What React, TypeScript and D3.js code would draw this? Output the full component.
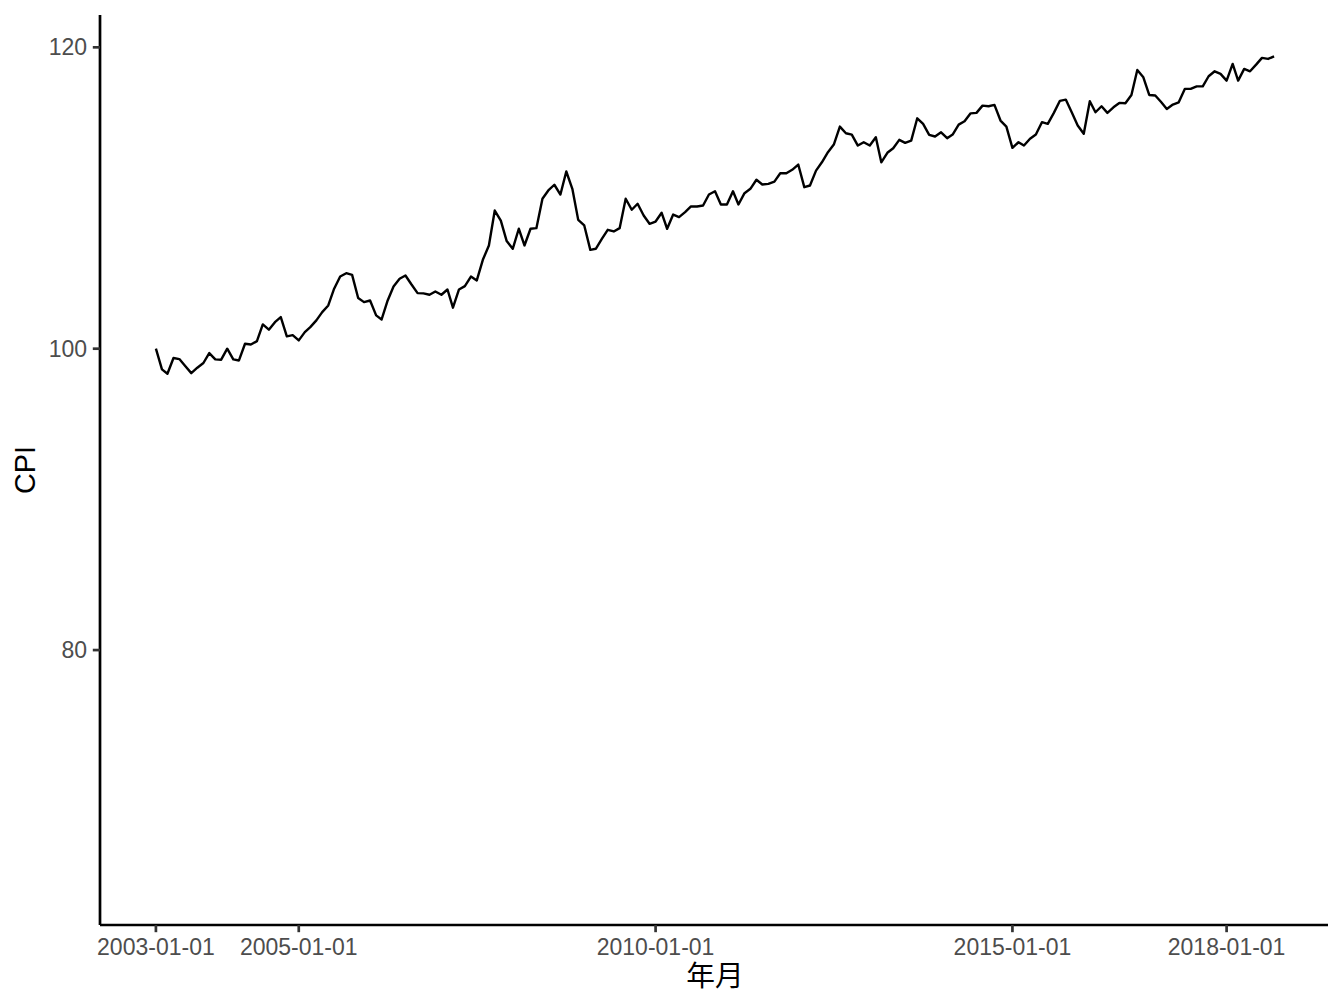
import React from "react";
import * as d3 from "d3";

const startMonth = "2003-01-01";
const cpi: number[] = [
  100.0, 98.63, 98.34, 99.38, 99.31, 98.83, 98.38, 98.74, 99.05, 99.71, 99.29, 99.27,
  100.0, 99.29, 99.22, 100.33, 100.28, 100.5, 101.61, 101.26, 101.76, 102.1, 100.82, 100.9,
  100.55, 101.1, 101.43, 101.88, 102.43, 102.87, 103.98, 104.79, 105.01, 104.9, 103.36, 103.09,
  103.2, 102.21, 101.94, 103.2, 104.13, 104.64, 104.86, 104.26, 103.69, 103.67, 103.58, 103.8,
  103.58, 103.93, 102.72, 103.93, 104.15, 104.79, 104.53, 105.9, 106.85, 109.17, 108.5, 107.14,
  106.63, 107.96, 106.85, 107.96, 108.0, 109.95, 110.5, 110.88, 110.23, 111.76, 110.61, 108.55,
  108.18, 106.56, 106.63, 107.29, 107.89, 107.78, 108.0, 109.95, 109.22, 109.62, 108.84, 108.29,
  108.44, 109.02, 107.96, 108.9, 108.73, 109.06, 109.44, 109.44, 109.5, 110.23, 110.45, 109.57,
  109.57, 110.45, 109.57, 110.32, 110.61, 111.21, 110.9, 110.94, 111.09, 111.64, 111.64, 111.87,
  112.22, 110.72, 110.83, 111.82, 112.37, 113.04, 113.55, 114.74, 114.3, 114.21, 113.48, 113.7,
  113.48, 114.03, 112.37, 113.0, 113.3, 113.86, 113.66, 113.81, 115.29, 114.92, 114.19, 114.08,
  114.36, 113.97, 114.21, 114.87, 115.09, 115.62, 115.65, 116.13, 116.09, 116.18, 115.14, 114.74,
  113.33, 113.7, 113.48, 113.93, 114.21, 115.03, 114.92, 115.65, 116.45, 116.53, 115.67, 114.81,
  114.26, 116.42, 115.69, 116.09, 115.65, 116.02, 116.31, 116.29, 116.84, 118.5, 118.01, 116.84,
  116.8, 116.35, 115.91, 116.2, 116.35, 117.24, 117.24, 117.41, 117.41, 118.08, 118.41, 118.24,
  117.79, 118.9, 117.79, 118.57, 118.41, 118.85, 119.3, 119.23, 119.4,
];
const xTickLabels = ["2003-01-01", "2005-01-01", "2010-01-01", "2015-01-01", "2018-01-01"];
const yTicks = [80, 100, 120];
const yLimits = [64.5, 119.4];
const xTitle = "年月";
const yTitle = "CPI";

const W = 1344;
const H = 1008;
const left = 100;
const right = 1330;
const top = 15;
const bottom = 925;

export default function App() {
  const parse = d3.utcParse("%Y-%m-%d");
  const start = parse(startMonth)!;
  const dates = cpi.map((_, i) => d3.utcMonth.offset(start, i));
  const data = cpi.map((v, i) => ({ d: dates[i], v }));

  const t0 = +dates[0];
  const t1 = +dates[dates.length - 1];
  const ex = (t1 - t0) * 0.05;
  const x = d3.scaleUtc().domain([new Date(t0 - ex), new Date(t1 + ex)]).range([left, right]);
  const ey = (yLimits[1] - yLimits[0]) * 0.05;
  const y = d3.scaleLinear().domain([yLimits[0] - ey, yLimits[1] + ey]).range([bottom, top]);

  const line = d3
    .line<{ d: Date; v: number }>()
    .x((p) => x(p.d))
    .y((p) => y(p.v));

  const font = "'Liberation Sans', Arial, 'Noto Sans CJK SC', sans-serif";

  return (
    <svg width={W} height={H} style={{ display: "block", position: "absolute", left: 0, top: 0 }}>
      <rect width={W} height={H} fill="#fff" />
      <path d={line(data) || ""} fill="none" stroke="#000" strokeWidth={2.4} strokeLinejoin="round" />
      <line x1={left} x2={left} y1={top} y2={bottom} stroke="#000" strokeWidth={2.7} />
      <line x1={left} x2={right - 2} y1={bottom} y2={bottom} stroke="#000" strokeWidth={2.7} />
      {yTicks.map((t) => (
        <g key={t}>
          <line x1={left - 7.2} x2={left} y1={y(t)} y2={y(t)} stroke="#333" strokeWidth={2.7} />
          <text
            x={left - 13}
            y={y(t)}
            dy="0.35em"
            textAnchor="end"
            fontFamily={font}
            fontSize={23}
            fill="#4D4D4D"
          >
            {t}
          </text>
        </g>
      ))}
      {xTickLabels.map((s) => {
        const xv = x(parse(s)!);
        return (
          <g key={s}>
            <line x1={xv} x2={xv} y1={bottom} y2={bottom + 7.2} stroke="#333" strokeWidth={2.7} />
            <text x={xv} y={955} textAnchor="middle" fontFamily={font} fontSize={23} fill="#4D4D4D">
              {s}
            </text>
          </g>
        );
      })}
      <text x={(left + right) / 2} y={986} textAnchor="middle" fontFamily={font} fontSize={28.75} fill="#000">
        {xTitle}
      </text>
      <text
        transform={`translate(35, ${(top + bottom) / 2}) rotate(-90)`}
        textAnchor="middle"
        fontFamily={font}
        fontSize={28.75}
        fill="#000"
      >
        {yTitle}
      </text>
    </svg>
  );
}
